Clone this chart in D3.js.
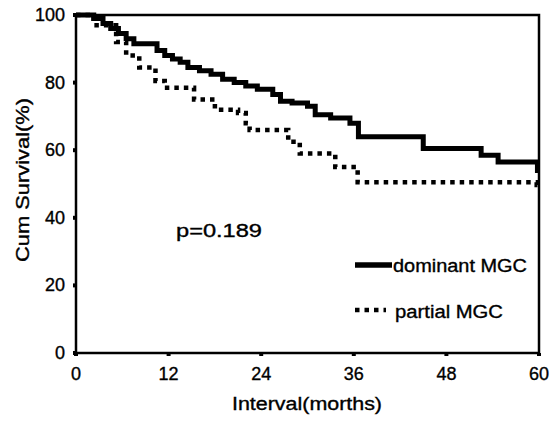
<!DOCTYPE html>
<html>
<head>
<meta charset="utf-8">
<script src="https://cdn.jsdelivr.net/npm/d3@7"></script>
<style>
  body { margin: 0; background: #fff; }
  text { font-family: "Liberation Sans", Arial, sans-serif; fill: #000; stroke: #000; stroke-width: 0.35px; }
</style>
</head>
<body>
<svg id="chart" width="560" height="421"></svg>
<script>
// tick labels
var monthTicks = [0, 12, 24, 36, 48, 60];
var pctTicks = [0, 20, 40, 60, 80, 100];

// dominant MGC (months, cum survival %)
var domTime = [0, 2.3, 3.5, 4.5, 5.5, 6.5, 7.5, 10.5, 11.5, 12.5, 13.5, 14.5, 16, 17.5, 19, 20.5, 22, 23.5, 25.5, 26.5, 28, 30, 31, 33, 35.5, 36.6, 45, 52.5, 54.7, 59.8, 60];
var domSurv = [100, 99, 97.5, 96, 94.5, 93, 91.5, 89.5, 88, 87, 86, 84.5, 83.5, 82.5, 81, 80, 79, 78, 76.5, 74.5, 74, 73, 70.5, 69.5, 68, 64, 60.5, 58.5, 56.5, 54, 54];

// partial MGC
var parTime = [0, 2.3, 5.2, 6.5, 8.2, 10.3, 11.5, 15.3, 18, 21, 22, 22.5, 27.5, 29, 33.6, 36.5, 59.7, 60];
var parSurv = [100, 97, 92, 88, 84.5, 80.5, 78.5, 75, 72, 71, 68, 66, 62.5, 59, 55, 50.5, 49.7, 49.7];

var svg = d3.select("#chart");

var x = d3.scaleLinear().domain([0, 60]).range([76, 539]);
var y = d3.scaleLinear().domain([0, 100]).range([353, 15]);

/* frame */
svg.append("rect")
    .attr("x", x(0)).attr("y", y(100))
    .attr("width", x(60) - x(0)).attr("height", y(0) - y(100))
    .style("fill", "none").style("stroke", "#000").style("stroke-width", 2.5);

/* tick bumps + labels */
svg.selectAll(".xt").data(monthTicks).enter().append("line")
    .attr("x1", function(d){ return x(d); }).attr("x2", function(d){ return x(d); })
    .attr("y1", y(0)).attr("y2", y(0) + 3)
    .style("stroke", "#000").style("stroke-width", 4);
svg.selectAll(".xl").data(monthTicks).enter().append("text")
    .attr("x", function(d){ return x(d); }).attr("y", 380)
    .attr("text-anchor", "middle").style("font-size", "18px")
    .text(function(d){ return d; });

svg.selectAll(".yt").data(pctTicks).enter().append("line")
    .attr("x1", x(0) - 3).attr("x2", x(0))
    .attr("y1", function(d){ return y(d); }).attr("y2", function(d){ return y(d); })
    .style("stroke", "#000").style("stroke-width", 4);
svg.selectAll(".yl").data(pctTicks).enter().append("text")
    .attr("x", 65).attr("y", function(d){ return y(d) + 6; })
    .attr("text-anchor", "end").style("font-size", "18px")
    .text(function(d){ return d; });

/* axis titles */
svg.append("text")
    .attr("transform", "translate(29,180) rotate(-90)")
    .attr("text-anchor", "middle").style("font-size", "18px")
    .attr("textLength", 164).attr("lengthAdjust", "spacingAndGlyphs")
    .text("Cum Survival(%)");
svg.append("text")
    .attr("x", 307).attr("y", 410)
    .attr("text-anchor", "middle").style("font-size", "18px")
    .attr("textLength", 150).attr("lengthAdjust", "spacingAndGlyphs")
    .text("Interval(morths)");

/* curves */
var line = d3.line()
    .x(function(d){ return x(d[0]); })
    .y(function(d){ return y(d[1]); })
    .curve(d3.curveStepAfter);

svg.append("path")
    .datum(d3.zip(domTime, domSurv))
    .attr("d", line)
    .style("fill", "none").style("stroke", "#000").style("stroke-width", 5);

svg.append("path")
    .datum(d3.zip(parTime, parSurv))
    .attr("d", line)
    .style("fill", "none").style("stroke", "#000").style("stroke-width", 4.5)
    .style("stroke-dasharray", "4.5,5");

/* p value + legend */
svg.append("text")
    .attr("x", 176).attr("y", 237).style("font-size", "18px")
    .attr("textLength", 86).attr("lengthAdjust", "spacingAndGlyphs")
    .text("p=0.189");

svg.append("line")
    .attr("x1", 355).attr("x2", 392).attr("y1", 265).attr("y2", 265)
    .style("stroke", "#000").style("stroke-width", 5.5);
svg.append("text")
    .attr("x", 393).attr("y", 272).style("font-size", "18px")
    .attr("textLength", 134).attr("lengthAdjust", "spacingAndGlyphs")
    .text("dominant MGC");

svg.append("line")
    .attr("x1", 355).attr("x2", 386).attr("y1", 310).attr("y2", 310)
    .style("stroke", "#000").style("stroke-width", 4.5)
    .style("stroke-dasharray", "4.5,5");
svg.append("text")
    .attr("x", 395).attr("y", 318).style("font-size", "18px")
    .attr("textLength", 108).attr("lengthAdjust", "spacingAndGlyphs")
    .text("partial MGC");
</script>
</body>
</html>
